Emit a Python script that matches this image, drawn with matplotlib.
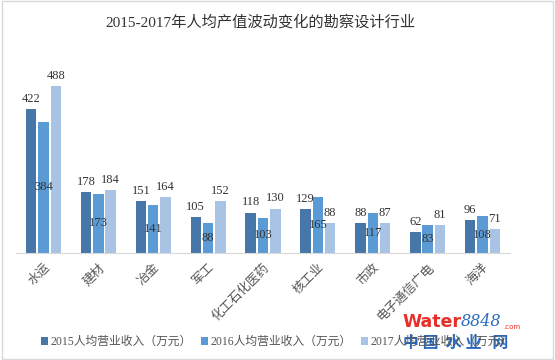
import matplotlib.pyplot as plt
import numpy as np

plt.rcParams['font.family'] = ['Liberation Serif', 'Noto Sans CJK SC']

# data
categories = ["水运", "建材", "冶金", "军工", "化工石化医药", "核工业", "市政", "电子通信广电", "海洋"]
rev_2015 = [422, 178, 151, 105, 118, 129, 88, 62, 96]
rev_2016 = [384, 173, 141, 88, 103, 165, 117, 83, 108]
rev_2017 = [488, 184, 164, 152, 130, 88, 87, 81, 71]
series_names = ["2015人均营业收入（万元）", "2016人均营业收入（万元）", "2017人均营业收入（万元）"]
colors = ["#4677a8", "#5b9bd5", "#a9c3e4"]

fig = plt.figure(figsize=(5.55, 3.6), dpi=100)
ax = fig.add_axes([16 / 555, 1 - 253 / 360, 494 / 555, 188 / 360])

x = np.arange(len(categories))
w = 0.19
step = 0.225
for i, (vals, c) in enumerate(zip([rev_2015, rev_2016, rev_2017], colors)):
    bars = ax.bar(x + (i - 1) * step, vals, width=w, color=c, label=series_names[i])
    if i == 1:
        ax.bar_label(bars, label_type='center', fontsize=9, color='#333333')
    else:
        ax.bar_label(bars, padding=3, fontsize=9, color='#333333')

ax.set_xlim(-0.5, len(categories) - 0.5)
ax.set_ylim(0, 550)
ax.set_yticks([])
ax.set_xticks(x)
ax.set_xticklabels(categories, rotation=45, ha='right', rotation_mode='anchor',
                   fontsize=9, color='#555555')
ax.tick_params(axis='x', length=0, pad=6)
for s in ['top', 'right', 'left']:
    ax.spines[s].set_visible(False)
ax.spines['bottom'].set_color('#d9d9d9')

fig.text(260 / 555, 1 - 22 / 360, "2015-2017年人均产值波动变化的勘察设计行业",
         ha='center', va='center', fontsize=11, color='#333333')

fig.legend(loc='center left', bbox_to_anchor=(30 / 555, 1 - 342 / 360), ncol=3, frameon=False,
           fontsize=8.5, handlelength=0.6, handleheight=0.6, handletextpad=0.2,
           columnspacing=0.8, labelcolor='#555555')

# watermark logo
fig.text(402 / 555, 1 - 322 / 360, "Water", color='#e8302a', fontsize=12.5,
         fontweight='bold', family='DejaVu Sans', va='center')
fig.text(461 / 555, 1 - 322 / 360, "8848", color='#2a6bbf', fontsize=11.5,
         style='italic', family='DejaVu Serif', va='center')
fig.text(503 / 555, 1 - 327 / 360, ".com", color='#e8302a', fontsize=5,
         family='DejaVu Sans', va='center')
fig.text(403 / 555, 1 - 343 / 360, "中 国  水 业   网", color='#2a6bbf', fontsize=11.5,
         fontweight='bold', family='Noto Sans CJK SC', va='center')

# outer border
fig.patches.append(plt.Rectangle((0.003, 0.004), 0.994, 0.992, transform=fig.transFigure,
                                 fill=False, edgecolor='#d9d9d9', linewidth=1))

fig.savefig("out.png", dpi=100)
